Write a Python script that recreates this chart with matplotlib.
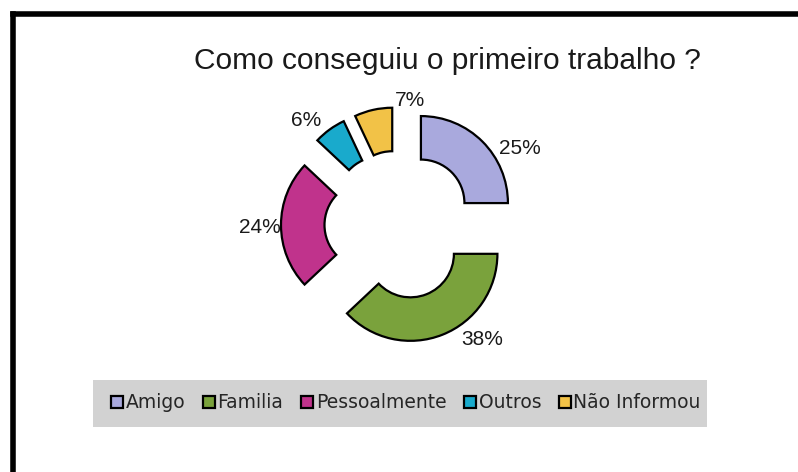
import matplotlib
matplotlib.use("Agg")
import matplotlib.pyplot as plt
from matplotlib.patches import Rectangle
from matplotlib.lines import Line2D

# Respostas: como conseguiu o primeiro trabalho
categories = ["Amigo", "Familia", "Pessoalmente", "Outros", "Não Informou"]
shares = [25, 38, 24, 6, 7]
colors = ["#a9a9dd", "#7aa23c", "#c0338c", "#19aacc", "#f2c247"]
title = "Como conseguiu o primeiro trabalho ?"

W, H = 798, 472
R = 87                 # raio externo do anel, em pixels
CENTER = (399, H - 225)
EXPLODE = 31           # afastamento de cada fatia
# pequenos ajustes de posição dos rótulos (px)
label_nudge = [(22, -22), (32, 15), (1, -3), (-11, -9), (41, -12)]

fig = plt.figure(figsize=(W / 100, H / 100), dpi=100)
ax = fig.add_axes([0, 0, 1, 1])

wedges, texts, autotexts = ax.pie(
    shares,
    colors=colors,
    startangle=90,
    counterclock=False,
    radius=R,
    center=CENTER,
    explode=[EXPLODE] * len(shares),
    autopct="%d%%",
    pctdistance=1.25,
    wedgeprops=dict(width=R * 0.5, edgecolor="black", linewidth=1.6),
    textprops=dict(family="Liberation Sans", fontsize=15, color="#1a1a1a"),
)

for t, (dx, dy) in zip(autotexts, label_nudge):
    x, y = t.get_position()
    t.set_position((x + dx, y + dy))

ax.set_xlim(0, W)
ax.set_ylim(0, H)
ax.set_aspect("equal")
ax.axis("off")

# título
fig.text(447 / W, 1 - 61 / H, title, ha="center", va="center",
         family="Liberation Sans", fontsize=21.5, color="#1a1a1a")

# moldura (esquerda e topo)
fig.add_artist(Line2D([13 / W, 13 / W], [0, 1 - 14 / H], transform=fig.transFigure,
                      color="black", linewidth=4, solid_capstyle="projecting"))
fig.add_artist(Line2D([13 / W, 1.0], [1 - 14 / H, 1 - 14 / H], transform=fig.transFigure,
                      color="black", linewidth=4, solid_capstyle="projecting"))

# caixa cinza da legenda
fig.add_artist(Rectangle((93 / W, 1 - 427 / H), (707 - 93) / W, (427 - 380) / H,
                         transform=fig.transFigure, facecolor="#d2d2d2",
                         edgecolor="none", zorder=0))

leg = fig.legend(wedges, categories, loc="center", ncol=5,
                 bbox_to_anchor=(406 / W, 1 - 403 / H), frameon=False,
                 prop=dict(family="DejaVu Sans", size=13.5),
                 handlelength=0.65, handleheight=0.65, handletextpad=0.12,
                 columnspacing=0.95)
for txt in leg.get_texts():
    txt.set_color("#262626")

fig.savefig("out.png", dpi=100)
